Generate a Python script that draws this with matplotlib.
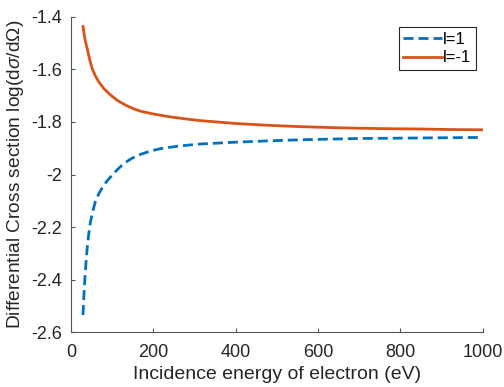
import matplotlib.pyplot as plt

plt.rcParams['font.family'] = ['Liberation Sans', 'DejaVu Sans']
plt.rcParams['mathtext.fontset'] = 'custom'
plt.rcParams['mathtext.rm'] = 'Liberation Sans'
plt.rcParams['mathtext.it'] = 'Liberation Sans:italic'

energy_up = [29, 31, 33, 36, 39, 43, 47, 53, 59, 67, 75, 87, 100, 112, 124, 136, 148, 164,
             190, 216, 260, 313, 400, 480, 556, 640, 700, 780, 850, 920, 1000]
dcs_up = [-2.534, -2.465, -2.408, -2.34, -2.281, -2.225, -2.18, -2.138, -2.103, -2.074,
          -2.052, -2.025, -2.002, -1.982, -1.964, -1.95, -1.938, -1.926, -1.912, -1.902,
          -1.892, -1.884, -1.877, -1.872, -1.868, -1.865, -1.863, -1.862, -1.861, -1.86,
          -1.859]

energy_dn = [29, 32, 35, 39, 45, 51, 58, 67, 80, 96, 113, 132, 150, 168, 200, 241, 280,
             313, 400, 480, 556, 640, 700, 780, 850, 920, 1000]
dcs_dn = [-1.438, -1.47, -1.495, -1.52, -1.562, -1.596, -1.622, -1.647, -1.674, -1.698,
          -1.719, -1.736, -1.749, -1.759, -1.77, -1.781, -1.789, -1.795, -1.806, -1.813,
          -1.818, -1.822, -1.824, -1.826, -1.827, -1.829, -1.83]

fig = plt.figure(figsize=(5.04, 3.87), dpi=100)
ax = fig.add_axes([0.141, 0.141, 0.817, 0.816])

ax.plot(energy_up, dcs_up, '--', color='#0072BD', lw=2, dashes=(3.6, 1.8), label='l=1')
ax.plot(energy_dn, dcs_dn, '-', color='#D95319', lw=2, label='l=-1')

ax.set_xlim(0, 1000)
ax.set_ylim(-2.6, -1.4)
ax.set_xticks([0, 200, 400, 600, 800, 1000])
ax.set_yticks([-2.6, -2.4, -2.2, -2, -1.8, -1.6, -1.4])
ax.set_yticklabels(['-2.6', '-2.4', '-2.2', '-2', '-1.8', '-1.6', '-1.4'])

for side in ['top', 'right']:
    ax.spines[side].set_visible(False)
for side in ['left', 'bottom']:
    ax.spines[side].set_color('#555555')
    ax.spines[side].set_linewidth(0.8)
ax.tick_params(direction='in', length=3, width=0.8, color='#555555',
               labelcolor='#262626', labelsize=13)
ax.tick_params(axis='x', pad=8)
ax.tick_params(axis='y', pad=6.5)

ax.set_xlabel('Incidence energy of electron (eV)', fontsize=14, color='#262626', labelpad=4)
ax.set_ylabel(r'Differential Cross section log(d$\it{\sigma}$/d$\Omega$)',
              fontsize=13.8, color='#262626', labelpad=4)

leg = ax.legend(loc='upper right', bbox_to_anchor=(0.984, 0.966), fancybox=False,
                edgecolor='#262626', fontsize=12, handlelength=2.35, handletextpad=0.05,
                borderpad=0.28, borderaxespad=0, labelspacing=0.2, framealpha=1)
leg.get_frame().set_linewidth(0.8)

fig.savefig('out.png', dpi=100)
